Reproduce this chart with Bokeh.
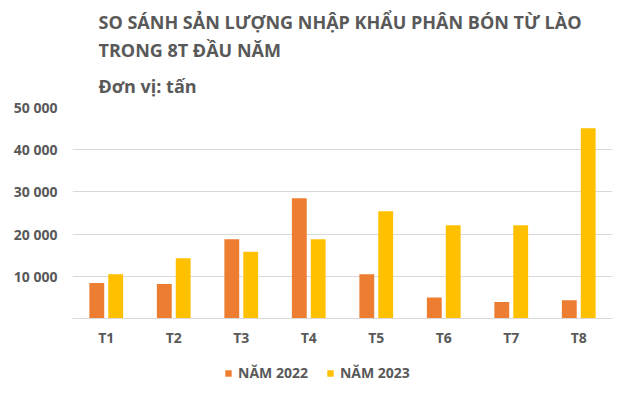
from bokeh.plotting import figure
from bokeh.layouts import column
from bokeh.models import FactorRange, Legend, LegendItem, FixedTicker, ColumnDataSource, Title, Range1d
from bokeh.transform import dodge
from bokeh.embed import file_html
from bokeh.resources import INLINE

months = ["T1", "T2", "T3", "T4", "T5", "T6", "T7", "T8"]
y2022 = [8400, 8200, 18800, 28500, 10500, 5000, 3900, 4300]
y2023 = [10500, 14300, 15800, 18800, 25400, 22100, 22100, 45100]
ticks = [0, 10000, 20000, 30000, 40000, 50000]
tick_labels = ["", "10 000", "20 000", "30 000", "40 000", "50 000"]
title_lines = ["SO SÁNH SẢN LƯỢNG NHẬP KHẨU PHÂN BÓN TỪ LÀO", "TRONG 8T ĐẦU NĂM", "Đơn vị: tấn"]
series_names = ["NĂM 2022", "NĂM 2023"]
colors = ["#ED7D31", "#FFC000"]

FONT = "Open Sans"
GREY = "#595959"

src = ColumnDataSource(dict(month=months, a=y2022, b=y2023))

p = figure(width=620, height=352, x_range=FactorRange(factors=months, range_padding=0),
           y_range=(0, 50000), output_backend="svg", toolbar_location=None,
           min_border_left=72, min_border_right=8, min_border_top=107, min_border_bottom=34)
p.outline_line_color = None
p.background_fill_color = "white"
p.border_fill_color = "white"

p.vbar(x=dodge("month", -0.14, range=p.x_range), top="a", width=0.22, source=src,
       fill_color=colors[0], line_color=None)
p.vbar(x=dodge("month", 0.14, range=p.x_range), top="b", width=0.22, source=src,
       fill_color=colors[1], line_color=None)

p.xgrid.grid_line_color = None
p.ygrid.grid_line_color = "#D9D9D9"
p.ygrid.ticker = FixedTicker(ticks=ticks)

p.yaxis.ticker = FixedTicker(ticks=ticks)
p.yaxis.major_label_overrides = {t: l for t, l in zip(ticks, tick_labels)}
p.yaxis.axis_line_color = None
p.yaxis.major_tick_line_color = None
p.yaxis.minor_tick_line_color = None
p.yaxis.major_tick_out = 0
p.yaxis.major_label_standoff = 15
p.yaxis.major_label_text_font = FONT
p.yaxis.major_label_text_font_style = "bold"
p.yaxis.major_label_text_font_size = "14px"
p.yaxis.major_label_text_color = GREY

p.xaxis.axis_line_color = "#D9D9D9"
p.xaxis.major_tick_line_color = None
p.xaxis.minor_tick_line_color = None
p.xaxis.major_tick_out = 0
p.xaxis.major_label_standoff = 9
p.xaxis.major_label_text_font = FONT
p.xaxis.major_label_text_font_style = "bold"
p.xaxis.major_label_text_font_size = "14px"
p.xaxis.major_label_text_color = GREY

# stacked title lines: the first added sits closest to the plot
for txt, so in zip(reversed(title_lines), [19, 2, 2]):
    p.add_layout(Title(text=txt, align="left", offset=26, standoff=so,
                       text_font=FONT, text_font_style="bold", text_font_size="18px",
                       text_color=GREY), "above")

# legend strip (helper renderers are zero-height, only their legend swatches show)
lf = figure(width=620, height=36, x_range=Range1d(0, 1), y_range=Range1d(0, 1),
            output_backend="svg", toolbar_location=None,
            min_border_left=0, min_border_right=0, min_border_top=0, min_border_bottom=0)
lf.axis.visible = False
lf.grid.visible = False
lf.outline_line_color = None
lr1 = lf.vbar(x=[0.5], top=[0], bottom=[0], width=0.01, fill_color=colors[0], line_color=None)
lr2 = lf.vbar(x=[0.5], top=[0], bottom=[0], width=0.01, fill_color=colors[1], line_color=None)
legend = Legend(items=[LegendItem(label=series_names[0], renderers=[lr1]),
                       LegendItem(label=series_names[1], renderers=[lr2])],
                location=(152, 6), orientation="horizontal",
                glyph_width=8, glyph_height=8, label_standoff=6, spacing=18,
                padding=0, margin=0, border_line_color=None, background_fill_alpha=0,
                label_text_font=FONT, label_text_font_style="bold",
                label_text_font_size="14px", label_text_color=GREY)
lf.add_layout(legend, "center")

open("out.html", "w").write(file_html(column(p, lf, spacing=0), INLINE))
